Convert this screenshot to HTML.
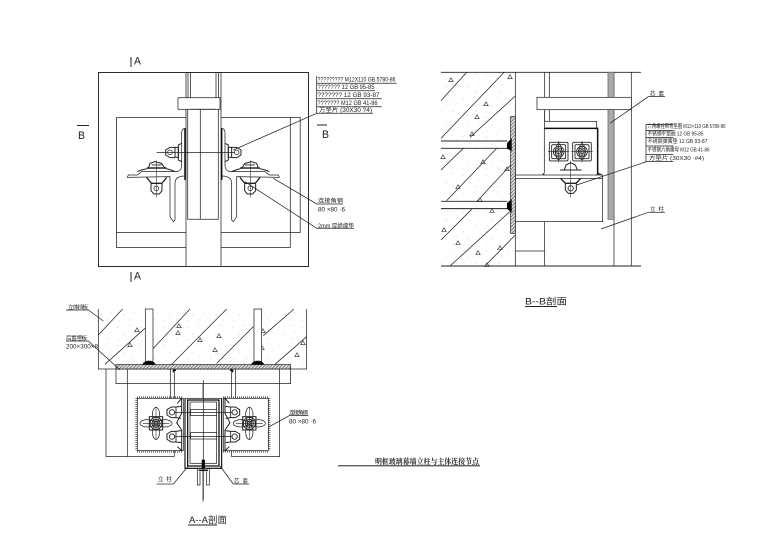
<!DOCTYPE html>
<html><head><meta charset="utf-8"><style>
html,body{margin:0;padding:0;background:#fff}
svg{display:block;filter:blur(.3px)}
text{font-family:"Liberation Sans","Noto Sans CJK SC",sans-serif;fill:#222;stroke:none}
</style></head><body>
<svg width="780" height="557" viewBox="0 0 780 557" xmlns="http://www.w3.org/2000/svg">
<defs>
<pattern id="h" width="7.2" height="7.2" patternUnits="userSpaceOnUse" patternTransform="rotate(-45)"><rect width="7.2" height="7.2" fill="#ddd"/><line x1="0" y1="0" x2="7.2" y2="0" stroke="#333" stroke-width="3"/></pattern>
<pattern id="d" width="23" height="19" patternUnits="userSpaceOnUse"><circle cx="3" cy="4" r=".4" fill="#888"/><circle cx="14" cy="2" r=".35" fill="#999"/><circle cx="9" cy="11" r=".4" fill="#888"/><circle cx="19" cy="9" r=".35" fill="#999"/><circle cx="16" cy="16" r=".4" fill="#888"/><circle cx="4" cy="17" r=".35" fill="#999"/></pattern>
<g id="tri"><path d="M0,-2.2L2.2,1.6L-2.2,1.6Z" fill="none" stroke="#444" stroke-width=".7"/></g>
<g id="angle">
<path d="M197,25C188,25 185,30 185,38L185,135C185,150 178,155 165,155L65,155L52,165L25,165L22,172L150,170L150,290L160,305L165,300L165,190C165,175 175,168 195,168"/>
<path d="M195,25V180" stroke-width="4.5" stroke="#111"/>
<path d="M185,70L175,75V120L185,125" stroke-width="3"/>
<rect x="165" y="82" width="10" height="30" stroke-width="3"/>
<path d="M165,82L150,82L137,90V105L150,113H165" stroke-width="3"/>
<circle cx="150" cy="97" r="7"/>
<path d="M52,155C65,148 75,148 85,145L90,130L105,125L125,130L135,145C145,148 155,150 165,155" stroke-width="3"/>
<path d="M85,145H135M95,135H125" stroke-width="2.6"/>
<path d="M80,172C85,180 90,185 95,190H125C130,185 135,180 140,172" stroke-width="4"/>
<path d="M93,190L93,212L102,222H118L126,212V190" stroke-width="3"/>
<circle cx="109" cy="205" r="7"/>
<path d="M109,122V232" stroke-width="1.6"/>
<path d="M80,142H140" stroke-width="1.6"/>
</g>
<g id="ros">
<circle r="18" stroke-width="3"/><circle r="12" stroke-width="3"/><circle r="7" stroke-width="2.4"/>
<rect x="-20" y="-20" width="40" height="40" stroke-width="3"/>
<ellipse cy="-26" rx="11" ry="22"/><ellipse cy="26" rx="11" ry="22"/>
<ellipse cx="-26" rx="22" ry="11"/><ellipse cx="26" rx="22" ry="11"/>
<path d="M-40,0H40M0,-50V50" stroke-width="1.6"/>
</g>
<g id="nut">
<path d="M35,-18L20,-16L6,-16L-7,-8V8L6,16H20L35,18" stroke-width="3"/>
<circle cx="8" r="8" stroke-width="2.6"/>
<path d="M20,-16V16" stroke-width="2.6"/>
</g>
<g id="mini">
<rect x="-28" y="-28" width="56" height="56" rx="4" stroke-width="2.6"/>
<rect x="-21" y="-21" width="42" height="42" rx="4" stroke-width="2.6"/>
<circle r="16" stroke-width="2.6"/><circle r="11" stroke-width="2.6"/><circle r="6" stroke-width="2.6"/>
<ellipse rx="9" ry="24"/>
<path d="M-32,0H32M0,-32V32" stroke-width="1.8"/>
</g>
</defs>

<rect x="441" y="72" width="74" height="194" fill="url(#d)"/>
<rect x="98" y="309" width="208" height="60" fill="url(#d)"/>

<!-- TOP LEFT -->
<g fill="none" stroke="#222" stroke-width=".75">
<rect x="98.5" y="72.5" width="210" height="194" stroke-width=".95"/>
<path d="M186,72V266M188,72V109M190.5,72V109M216,72V109M218.5,72V109M221,72V266"/>
<rect x="178" y="97.7" width="42" height="11.6" fill="#fff"/>
<path d="M190.5,109.3H216"/>
<path d="M186,117.5H116.5V247.5H186M221,117.5H300.2V232.5H221M290.3,117.5V247.5H221M116.5,232.5H186"/>
<path d="M187.7,109V219.3H218.3V109M200.3,109V219.3"/>
<g transform="translate(120,120) scale(.3333)" stroke-width="2.2">
<use href="#angle"/>
<use href="#angle" transform="matrix(-1 0 0 1 500 0)"/>
<path d="M110,97H345" stroke-width="2.2"/>
</g>
<path d="M233.3,150L316.7,113.3M273.3,178.3L316.7,204H343M245,181.7L316.7,228.3H354"/>
<path d="M316.7,76V113.3M316.7,83.3H396.7M316.7,90.7H375M316.7,98.7H381.7M316.7,106.7H381.7M316.7,113.3H373"/>
</g>
<g font-size="6">
<text x="317.5" y="81.5" textLength="78" lengthAdjust="spacingAndGlyphs">????????? M12X110  GB 5780-86</text>
<text x="317.5" y="89" textLength="57" lengthAdjust="spacingAndGlyphs">??????? 12  GB 95-85</text>
<text x="317.5" y="97" textLength="62" lengthAdjust="spacingAndGlyphs">???????  12  GB 93-87</text>
<text x="317.5" y="105" textLength="60" lengthAdjust="spacingAndGlyphs">??????? M12  GB 41-86</text>
<text x="319" y="112" textLength="53" lengthAdjust="spacingAndGlyphs">方垫片  (30X30  ?4)</text>
<text x="318" y="202.5" font-size="5.5" textLength="25" lengthAdjust="spacingAndGlyphs">连接角钢</text>
<text x="318" y="211.5" textLength="27" lengthAdjust="spacingAndGlyphs">80 ×80 ·6</text>
<text x="318" y="228" textLength="36" lengthAdjust="spacingAndGlyphs">2mm 厚绝缘垫</text>
</g>
<g fill="#222">
<rect x="130.5" y="57" width="1" height="10"/><rect x="130.5" y="272" width="1" height="10"/>
<rect x="77" y="125" width="12" height="1"/><rect x="317" y="124.5" width="10" height="1"/>
</g>
<g font-size="11">
<text x="134" y="64.5" textLength="7" lengthAdjust="spacingAndGlyphs">A</text>
<text x="134" y="279.5" textLength="7" lengthAdjust="spacingAndGlyphs">A</text>
<text x="78" y="139" textLength="7" lengthAdjust="spacingAndGlyphs">B</text>
<text x="322" y="138" textLength="7" lengthAdjust="spacingAndGlyphs">B</text>
</g>

<!-- TOP RIGHT -->
<g transform="translate(430,60) scale(.3333)" fill="none" stroke="#222" stroke-width="2.2">
<path d="M33,37H633M33,618H633" stroke-width="2.8"/>
<path d="M33,122L110,37M33,235L222,37M120,232L256,108M33,330L100,265M50,422L200,265M140,425L256,300M33,540L125,448M60,618L256,440M165,618L256,525"/>
<g transform="scale(3)" stroke="none"><use href="#tri" x="21" y="20"/><use href="#tri" x="80" y="17"/><use href="#tri" x="47" y="57"/><use href="#tri" x="56" y="44"/><use href="#tri" x="42" y="74"/><use href="#tri" x="13" y="97"/><use href="#tri" x="77" y="109"/><use href="#tri" x="53" y="102"/><use href="#tri" x="28" y="127"/><use href="#tri" x="50" y="140"/><use href="#tri" x="62" y="151"/><use href="#tri" x="14" y="170"/><use href="#tri" x="28" y="183"/><use href="#tri" x="48" y="193"/><use href="#tri" x="70" y="188"/><use href="#tri" x="57" y="205"/></g>
<path d="M256,37V618M344,37V184M358,37V184M344,485V618M552,37V618M604,37V618"/>
<rect x="242" y="170" width="14" height="350" fill="url(#h)" stroke="#222"/>
<path d="M33,243H232M33,265H232M33,424H232M33,446H232" stroke-width="2.8"/>
<path d="M232,250L244,237V272L232,265ZM232,430L244,419V455L232,446Z" fill="#000" stroke="#000"/>
<rect x="534" y="37" width="18" height="441" fill="#aaa" stroke="#666"/>
<rect x="321" y="112" width="283" height="37" fill="#fff"/>
<path d="M344,149V184"/>
<rect x="344" y="184" width="156" height="21"/>
<path d="M343,205H503V345" stroke-width="4.5" stroke="#111"/>
<path d="M343,205V340"/>
<path d="M256,345H518V485H256M256,355H518M256,573H344"/>
<path d="M515,345L505,340L500,345M343,345L338,340" stroke-width="3.5"/>
<path d="M440,375L650,305M540,190L655,110H705M513,507L655,457H705"/>
<path d="M648,193V305M648,193H730M648,212H730M648,232H730M648,258H730M648,283H730M648,305H730"/>
</g>
<g transform="translate(500,110) scale(.3333)" fill="none" stroke="#222" stroke-width="2.1">
<use href="#mini" x="176" y="125"/><use href="#mini" x="246" y="125"/>
<path d="M193,180L198,165L212,158L226,165L232,180ZM180,180H245" stroke-width="3"/>
<path d="M182,205C188,212 192,218 198,220H226C232,218 236,212 242,205" stroke-width="4"/>
<path d="M196,220V240L205,250H220L229,240V220" stroke-width="3"/>
<circle cx="212" cy="235" r="8" stroke-width="2.6"/>
<path d="M212,152V262" stroke-width="1.6"/>
</g>
<g font-size="5.5">
<text x="647.5" y="128" textLength="78" lengthAdjust="spacingAndGlyphs">六角螺栓带弯垫圈 M12×110  GB 5780-86</text>
<text x="647.5" y="135.5" textLength="56" lengthAdjust="spacingAndGlyphs">不锈钢平垫圈 12  GB 95-85</text>
<text x="647.5" y="143" textLength="60" lengthAdjust="spacingAndGlyphs">不锈钢弹簧垫 12  GB 93-87</text>
<text x="647.5" y="151.5" textLength="62" lengthAdjust="spacingAndGlyphs">不锈钢六角螺母 M12 GB 41-86</text>
<text x="649" y="160" textLength="55" lengthAdjust="spacingAndGlyphs">方垫片  (30X30 ·#4)</text>
<text x="650" y="95.5" textLength="14" lengthAdjust="spacing">芯 套</text>
<text x="650" y="211" textLength="14" lengthAdjust="spacing">立 柱</text>
</g>
<text x="525" y="304.5" font-size="9" textLength="42" lengthAdjust="spacingAndGlyphs">B--B剖面</text>
<rect x="525" y="306" width="32" height="1" fill="#222"/>

<!-- BOTTOM LEFT -->
<g transform="translate(50,295) scale(.3333)" fill="none" stroke="#222" stroke-width="2.2">
<path d="M145,42V222H770V42"/>
<path d="M145,120L218,42M165,208L285,100M310,160L420,42M365,208L530,42M500,205L610,95M640,122L732,42M675,208L770,125"/>
<g transform="scale(3)" stroke="none"><use href="#tri" x="87" y="35"/><use href="#tri" x="80" y="50"/><use href="#tri" x="129" y="31"/><use href="#tri" x="128" y="38"/><use href="#tri" x="150" y="45"/><use href="#tri" x="169" y="41"/><use href="#tri" x="165" y="55"/><use href="#tri" x="213" y="36"/><use href="#tri" x="253" y="48"/><use href="#tri" x="247" y="60"/><use href="#tri" x="212" y="53"/></g>
<rect x="286" y="42" width="23" height="158" fill="#fff"/><rect x="612" y="42" width="23" height="158" fill="#fff"/>
<path d="M278,209C282,200 288,198 297,198C306,198 312,200 316,209ZM604,209C608,200 614,198 623,198C632,198 638,200 642,209Z" fill="#000"/>
<rect x="198" y="209" width="524" height="13" fill="url(#h)"/>
<path d="M198,222V266H722V222"/>
<path d="M168,222V485H373M232,222V485M361,222V310M373,222V310M373,465V485M545,222V310M557,222V310M545,465V485H689V222"/>
<path d="M370,232V226H378M548,232V226H540" stroke-width="4" stroke="#111"/>
<path d="M459,266V620"/>
<path d="M48,45H115L160,78M48,138H115L210,225"/>
<path d="M640,405L718,362H775"/>
</g>
<g transform="translate(120,380) scale(.3333)" fill="none" stroke="#222" stroke-width="2.2">
<rect x="52" y="55" width="138" height="157" fill="#fff"/><rect x="310" y="55" width="135" height="157" fill="#fff"/>
<path d="M49,55V212M52,52H190M52,215H190M448,55V212M310,52H445M310,215H445" stroke-width="6" stroke-dasharray="2 4"/>
<use href="#ros" x="108" y="130"/><use href="#ros" x="388" y="130"/>
<rect x="195" y="55" width="110" height="210" fill="#fff"/>
<path d="M195,55V265H305V55" stroke-width="3.4" stroke="#111"/>
<rect x="203" y="60" width="94" height="198" stroke-width="3.8" stroke="#111"/>
<rect x="210" y="66" width="80" height="184"/>
<path d="M172,70L185,55V100L170,128L185,150V212L172,200M328,70L315,55V100L330,128L315,150V212L328,200" stroke-width="3"/>
<g transform="translate(148,97)"><use href="#nut"/></g><g transform="translate(148,170)"><use href="#nut"/></g>
<g transform="translate(352,97) scale(-1,1)"><use href="#nut"/></g><g transform="translate(352,170) scale(-1,1)"><use href="#nut"/></g>
<path d="M165,97H335M165,170H335M225,88H290M225,107H290M225,158H290M225,177H290"/>
<path d="M225,88H212V107H225M225,158H212V177H225"/>
<path d="M250,0V360"/>
<rect x="246" y="240" width="8" height="26" fill="#000"/>
<path d="M236,271H264" stroke-width="4.5" stroke="#111"/>
<path d="M232,266V315H240V275M268,266V315H260V275"/>
<path d="M110,312H160L205,258M300,258L340,312H388"/>
</g>
<g font-size="6">
<text x="68" y="309" textLength="20" lengthAdjust="spacing" font-size="5.5">立体挡板</text>
<text x="66" y="340" textLength="21" lengthAdjust="spacing" font-size="5.5">后置埋板</text>
<text x="66" y="348.5" textLength="32" lengthAdjust="spacingAndGlyphs">200×300×8</text>
<text x="289" y="414.5" textLength="19" lengthAdjust="spacing" font-size="5.5">连接角钢</text>
<text x="289" y="423.5" textLength="27" lengthAdjust="spacingAndGlyphs">80 ×80 ·6</text>
<text x="158" y="481" textLength="14" lengthAdjust="spacing" font-size="5.5">立 柱</text>
<text x="234" y="483" textLength="14" lengthAdjust="spacing" font-size="5.5">芯 套</text>
</g>
<text x="189" y="523" font-size="9" textLength="38" lengthAdjust="spacingAndGlyphs">A--A剖面</text>
<rect x="188" y="524.5" width="29" height="1" fill="#222"/>

<!-- TITLE -->
<text x="375" y="464" font-size="7.5" font-weight="bold" textLength="104" lengthAdjust="spacingAndGlyphs" style="font-family:'Noto Serif CJK SC','Liberation Serif',serif">明框玻璃幕墙立柱与主体连接节点</text>
<rect x="338" y="465.3" width="142" height="1" fill="#222"/>
</svg>
</body></html>
